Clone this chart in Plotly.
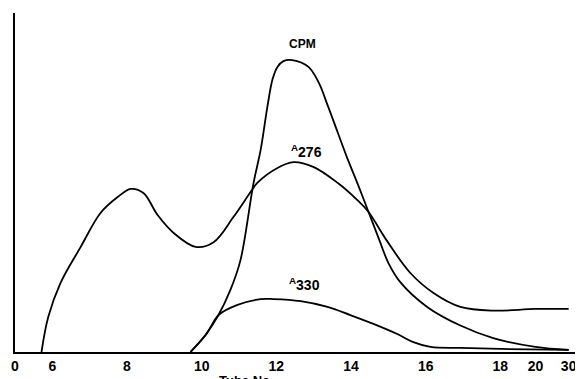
import numpy as np
import plotly.graph_objects as go

# ---- data (tube number, relative response 0-100) ----
tube_cpm = [9.70, 10.10, 10.45, 10.77, 11.04, 11.39, 11.58, 11.76, 11.90, 12.03, 12.19, 12.43,
            12.86, 13.13, 13.37, 13.64, 13.90, 14.20, 14.47, 14.76, 15.00, 15.32, 16.04, 16.93,
            17.81, 20, 30]
cpm = [0, 5.0, 10.9, 18.3, 27.1, 49.9, 59.6, 72.3, 80.5, 84.1, 85.8, 86.1,
       84.1, 79.6, 72.9, 64.9, 57.2, 49.0, 41.3, 33.0, 26.3, 20.6, 13.3, 7.8,
       4.1, 1.5, 0.6]

tube_a276 = [5.71, 5.89, 6.22, 6.76, 7.29, 7.75, 8.10, 8.44, 8.82, 9.25, 9.84, 10.32, 10.85,
             11.31, 11.49, 12.03, 12.46, 12.99, 13.64, 14.17, 14.47, 14.95, 15.59,
             16.21, 16.93, 17.81, 20, 30]
a276 = [0, 10.3, 20.4, 31.0, 41.0, 45.7, 48.1, 46.9, 40.4, 35.1, 31.0, 32.4, 39.8,
        47.2, 49.9, 54.3, 56.0, 54.6, 49.9, 44.8, 41.3, 33.0, 23.3,
        17.4, 13.3, 12.2, 12.7, 12.7]

tube_a330 = [9.70, 10.13, 10.45, 10.96, 11.58, 11.92, 12.65, 13.37, 13.98, 14.60,
             15.24, 15.67, 16.13, 16.93, 18, 30]
a330 = [0, 5.3, 10.9, 13.9, 15.6, 15.6, 15.0, 13.3, 10.9, 8.3,
        5.3, 2.9, 1.5, 1.2, 0.9, 0.6]

tick_values = [0, 6, 8, 10, 12, 14, 16, 18, 20, 30]
tick_labels = ["0", "6", "8", "10", "12", "14", "16", "18", "20", "30"]

# broken x scale: linear from the origin to 18, compressed beyond
scale_tube = [5, 18, 20, 30]
scale_pos = [5, 18, 18.94, 19.83]
X_ORIGIN, X_END = 5, 20


def warp(t):
    return np.interp(t, scale_tube, scale_pos)


tickvals = [X_ORIGIN] + list(warp(tick_values[1:]))

fig = go.Figure()
for tx, ty in [(tube_cpm, cpm), (tube_a276, a276), (tube_a330, a330)]:
    fig.add_trace(go.Scatter(
        x=warp(tx), y=ty, mode="lines",
        line=dict(color="black", width=1.8, shape="spline", smoothing=1.0),
        showlegend=False, hoverinfo="skip"))

FAM = "Liberation Sans, Arial, sans-serif"
fig.add_annotation(x=warp(12.69), y=90.8, text="CPM", showarrow=False,
                   font=dict(family=FAM, size=12, color="black", weight="bold"),
                   xanchor="center", yanchor="middle")
fig.add_annotation(x=warp(12.80), y=59.4, text="<sup>A</sup>276", showarrow=False,
                   font=dict(family=FAM, size=14, color="black", weight="bold"),
                   xanchor="center", yanchor="middle")
fig.add_annotation(x=warp(12.76), y=20.0, text="<sup>A</sup>330", showarrow=False,
                   font=dict(family=FAM, size=14, color="black", weight="bold"),
                   xanchor="center", yanchor="middle")
fig.add_annotation(xref="paper", yref="paper", x=(246 - 15) / 560, y=-0.083,
                   text="Tube No.", showarrow=False,
                   font=dict(family=FAM, size=13, color="black", weight="bold"),
                   xanchor="center", yanchor="middle")

# the page body adds an 8px offset; size the figure to fill the rest of the window
fig.update_layout(
    width=575, height=371,
    margin=dict(l=7, r=8, t=5, b=27),
    paper_bgcolor="white", plot_bgcolor="white",
    xaxis=dict(range=[X_ORIGIN, X_END], tickvals=tickvals, ticktext=tick_labels,
               showgrid=False, zeroline=False, showline=True, linecolor="black",
               linewidth=1.6, ticks="", automargin=False,
               tickfont=dict(family=FAM, size=14, color="black", weight="bold"),
               ticklabelstandoff=0),
    yaxis=dict(range=[0, 100], showgrid=False, zeroline=False, showline=True,
               linecolor="black", linewidth=2, ticks="", showticklabels=False,
               automargin=False),
)

fig.write_html("out.html")
